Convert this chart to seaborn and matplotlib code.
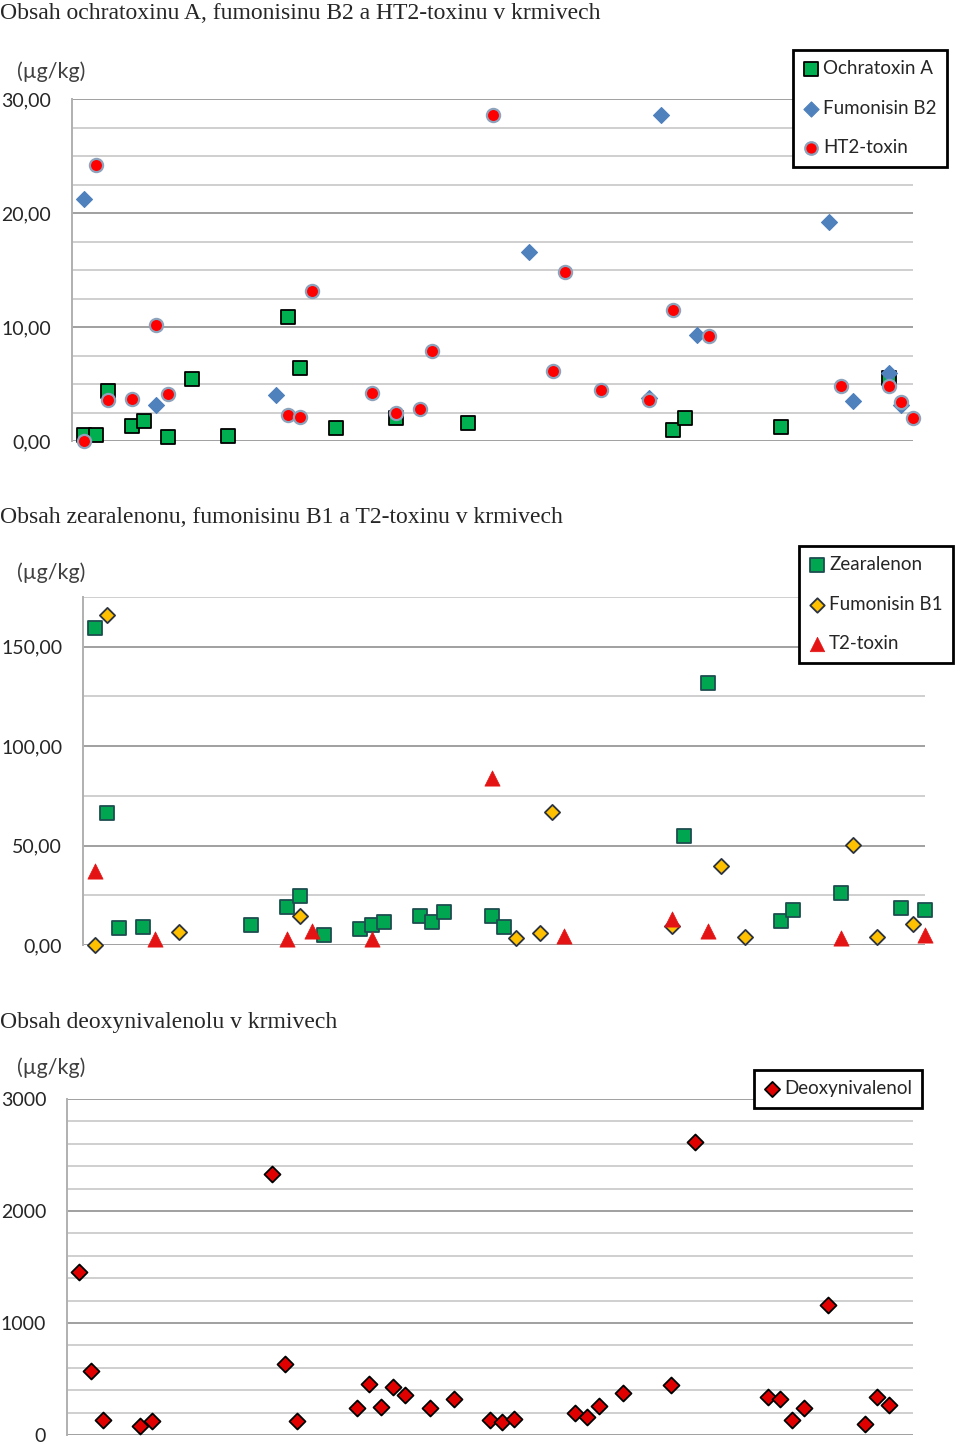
import numpy as np
import pandas as pd
import matplotlib
matplotlib.use("Agg")
import matplotlib.pyplot as plt
import seaborn as sns
from matplotlib.ticker import MultipleLocator, FuncFormatter

# ---------------------------------------------------------------------------
# Data (sample index -> concentration in ug/kg)
# ---------------------------------------------------------------------------
ota_idx = [1, 2, 3, 5, 6, 8, 10, 13, 18, 19, 22, 27, 33, 50, 51, 59, 68]
ota_val = [0.5, 0.5, 4.4, 1.3, 1.75, 0.35, 5.4, 0.4, 10.9, 6.4, 1.1, 2.0, 1.6,
           1.0, 2.0, 1.2, 5.5]

fb2_idx = [1, 7, 17, 38, 48, 49, 52, 63, 65, 68, 69]
fb2_val = [21.2, 3.2, 4.0, 16.6, 3.8, 28.6, 9.3, 19.2, 3.5, 6.0, 3.2]

ht2_idx = [1, 2, 3, 5, 7, 8, 18, 19, 20, 25, 27, 29, 30, 35, 40, 41, 44, 48,
           50, 53, 64, 68, 69, 70]
ht2_val = [0.0, 24.2, 3.6, 3.7, 10.2, 4.1, 2.3, 2.1, 13.2, 4.2, 2.5, 2.8, 7.9,
           28.6, 6.1, 14.8, 4.5, 3.6, 11.5, 9.25, 4.8, 4.8, 3.4, 2.0]

zea_idx = [1, 2, 3, 5, 14, 17, 18, 20, 23, 24, 25, 28, 29, 30, 34, 35, 50, 52,
           58, 59, 63, 68, 70]
zea_val = [159.4, 66.3, 8.7, 9.0, 10.2, 19.3, 24.7, 5.0, 7.9, 10.1, 11.6, 14.4,
           11.4, 16.8, 14.6, 9.2, 55.0, 132.0, 12.2, 17.6, 26.3, 18.5, 17.6]

fb1_idx = [1, 2, 8, 18, 36, 38, 39, 49, 53, 55, 64, 66, 69]
fb1_val = [0.0, 165.9, 6.5, 14.8, 3.4, 6.2, 66.8, 9.6, 39.8, 4.2, 50.3, 3.9, 10.4]

t2_idx = [1, 6, 17, 19, 24, 34, 40, 49, 52, 63, 70]
t2_val = [37.4, 2.8, 3.0, 7.2, 2.8, 83.9, 4.5, 12.9, 7.0, 3.7, 5.0]

don_idx = [1, 2, 3, 6, 7, 17, 18, 19, 24, 25, 26, 27, 28, 30, 32, 35, 36, 37,
           42, 43, 44, 46, 50, 52, 58, 59, 60, 61, 63, 66, 67, 68]
don_val = [1455, 571, 134, 80, 125, 2333, 637, 125, 238, 452, 247, 432, 357,
           238, 324, 134, 119, 143, 199, 158, 262, 372, 446, 2616, 342, 321,
           134, 244, 1161, 95, 336, 265]

titles = [
    "Obsah ochratoxinu A, fumonisinu B2 a HT2-toxinu v krmivech",
    "Obsah zearalenonu, fumonisinu B1 a T2-toxinu v krmivech",
    "Obsah deoxynivalenolu v krmivech",
]
unit_label = "(µg/kg)"

# ---------------------------------------------------------------------------
sns.set_style("white")
plt.rcParams["font.family"] = ["Lato", "DejaVu Sans"]

W, H = 960, 1444
fig = plt.figure(figsize=(W / 100, H / 100), dpi=100)

MAJOR_GRID = "#a0a0a0"
MINOR_GRID = "#cfcfcf"
TICK_FS = 14
LEGEND_FS = 13.5


def px_axes(left, top, right, bottom):
    """Axes from pixel box (top-left origin)."""
    return fig.add_axes([left / W, 1 - bottom / H, (right - left) / W, (bottom - top) / H])


def style_axes(ax, ymax, major, minor, fmt):
    ax.set_xlim(0, 70)
    ax.set_ylim(0, ymax)
    ax.set_xticks([])
    ax.yaxis.set_major_locator(MultipleLocator(major))
    ax.yaxis.set_minor_locator(MultipleLocator(minor))
    ax.yaxis.set_major_formatter(FuncFormatter(fmt))
    ax.grid(which="major", axis="y", color=MAJOR_GRID, lw=1.4)
    ax.grid(which="minor", axis="y", color=MINOR_GRID, lw=1.4)
    ax.set_axisbelow(True)
    for s in ["top", "right", "bottom"]:
        ax.spines[s].set_visible(False)
    ax.spines["left"].set_color("#b0b0b0")
    ax.spines["left"].set_linewidth(1.4)
    ax.tick_params(axis="y", which="major", direction="out", length=6, width=1.4,
                   color=MAJOR_GRID, labelsize=TICK_FS, pad=9)
    ax.tick_params(axis="y", which="minor", length=0)
    ax.set_xlabel("")
    ax.set_ylabel("")


def comma2(v, pos):
    return f"{v:.2f}".replace(".", ",")


def plain(v, pos):
    return f"{v:.0f}"


def series(ax, idx, val, label, **kw):
    df = pd.DataFrame({"vzorek": idx, "obsah": val})
    sns.scatterplot(data=df, x="vzorek", y="obsah", ax=ax, label=label,
                    clip_on=False, zorder=3, **kw)


def add_legend(ax, left, top):
    leg = ax.legend(loc="upper left", bbox_to_anchor=(left / W, 1 - top / H),
                    bbox_transform=fig.transFigure, frameon=True, fancybox=False,
                    fontsize=LEGEND_FS, borderaxespad=0, borderpad=0.55,
                    labelspacing=1.2, handlelength=0.85, handletextpad=0.2,
                    markerscale=0.95)
    fr = leg.get_frame()
    fr.set_edgecolor("black")
    fr.set_linewidth(2)
    fr.set_alpha(1)
    leg.set_zorder(10)
    return leg


# --- panel 1 ---------------------------------------------------------------
ax1 = px_axes(72, 99, 913, 441)
series(ax1, ota_idx, ota_val, "Ochratoxin A", marker="s", s=100,
       color="#00b050", edgecolor="black", linewidth=1.3)
series(ax1, fb2_idx, fb2_val, "Fumonisin B2", marker="D", s=66,
       color="#4f81bd", edgecolor="#4f81bd", linewidth=0.8)
series(ax1, ht2_idx, ht2_val, "HT2-toxin", marker="o", s=90,
       color="#ff0000", edgecolor="#8da2bb", linewidth=1.6)
style_axes(ax1, 30, 10, 2.5, comma2)
add_legend(ax1, 793, 50)

# --- panel 2 ---------------------------------------------------------------
ax2 = px_axes(83, 597, 925, 945)
series(ax2, zea_idx, zea_val, "Zearalenon", marker="s", s=100,
       color="#00a650", edgecolor="#1d4d4f", linewidth=1.3)
series(ax2, fb1_idx, fb1_val, "Fumonisin B1", marker="D", s=60,
       color="#ffc000", edgecolor="#2b3340", linewidth=1.3)
series(ax2, t2_idx, t2_val, "T2-toxin", marker="^", s=120,
       color="#e41414", edgecolor="#e41414", linewidth=0.5)
style_axes(ax2, 175, 50, 25, comma2)
add_legend(ax2, 799, 546)

# --- panel 3 ---------------------------------------------------------------
ax3 = px_axes(67, 1099, 913, 1435)
series(ax3, don_idx, don_val, "Deoxynivalenol", marker="D", s=66,
       color="#e00000", edgecolor="black", linewidth=1.3)
style_axes(ax3, 3000, 1000, 200, plain)
add_legend(ax3, 754, 1070)

# --- titles and unit labels --------------------------------------------------
title_y = [19, 523, 1028]
unit_y = [72, 573, 1068]
for ty, uy, t in zip(title_y, unit_y, titles):
    fig.text(0, 1 - ty / H, t, fontsize=17, va="baseline", ha="left",
             family=["Liberation Serif", "DejaVu Serif"])
    fig.text(17 / W, 1 - uy / H, unit_label, fontsize=15.5, va="center",
             ha="left", color="#404040")

fig.savefig("out.png", dpi=100)
